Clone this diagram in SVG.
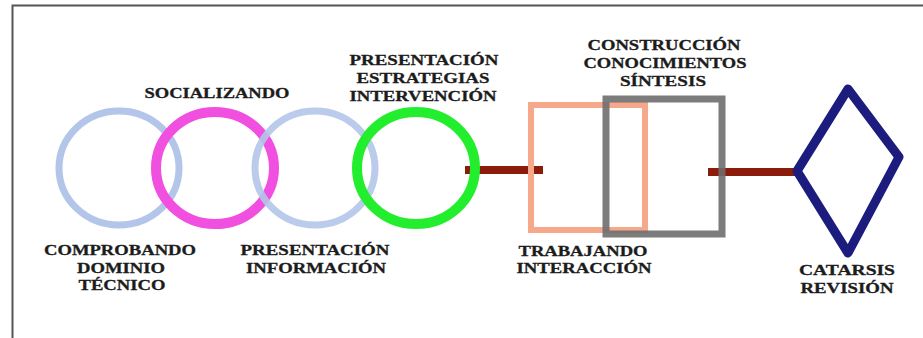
<svg xmlns="http://www.w3.org/2000/svg" width="923" height="338" viewBox="0 0 923 338">
<style>
.lbl{font-family:"Liberation Serif","Times New Roman",serif;font-weight:bold;font-size:15.5px;fill:#1c1c1c;stroke:#1c1c1c;stroke-width:0.3;text-anchor:middle}
.ring{fill:none}
.conn{stroke:#8b1c0c;stroke-width:8;fill:none}
</style>
<rect width="923" height="338" fill="#ffffff"/>
<path d="M12.5,338 V5.5 H923" fill="none" stroke="#555" stroke-width="2"/>
<g id="connectors">
<line class="conn" x1="465" y1="170" x2="543" y2="170"/>
<line class="conn" x1="708" y1="172" x2="797" y2="172" stroke-width="10"/>
</g>
<g id="n-comprobando">
<ellipse class="ring" cx="119" cy="168" rx="60" ry="57" stroke="#b3c5e9" stroke-width="7"/>
<text class="lbl" x="120" y="255" textLength="152" lengthAdjust="spacingAndGlyphs">COMPROBANDO</text>
<text class="lbl" x="121" y="273" textLength="88" lengthAdjust="spacingAndGlyphs">DOMINIO</text>
<text class="lbl" x="122" y="290" textLength="87" lengthAdjust="spacingAndGlyphs">TÉCNICO</text>
</g>
<g id="n-socializando">
<ellipse class="ring" cx="215" cy="168" rx="59" ry="56" stroke="#f04fdf" stroke-width="10"/>
<text class="lbl" x="217" y="98" textLength="145" lengthAdjust="spacingAndGlyphs">SOCIALIZANDO</text>
</g>
<g id="n-presentacion-info">
<ellipse class="ring" cx="315" cy="168" rx="60" ry="57" stroke="#b3c5e9" stroke-width="7" opacity="0.9"/>
<text class="lbl" x="315" y="255" textLength="149" lengthAdjust="spacingAndGlyphs">PRESENTACIÓN</text>
<text class="lbl" x="316" y="273" textLength="140" lengthAdjust="spacingAndGlyphs">INFORMACIÓN</text>
</g>
<g id="n-presentacion-estrategias">
<ellipse class="ring" cx="416" cy="168" rx="59" ry="56" stroke="#22ee2e" stroke-width="10"/>
<text class="lbl" x="424" y="65" textLength="149" lengthAdjust="spacingAndGlyphs">PRESENTACIÓN</text>
<text class="lbl" x="423" y="83" textLength="133" lengthAdjust="spacingAndGlyphs">ESTRATEGIAS</text>
<text class="lbl" x="423" y="101" textLength="147" lengthAdjust="spacingAndGlyphs">INTERVENCIÓN</text>
</g>
<g id="n-trabajando">
<rect x="531" y="105" width="114" height="125" fill="none" stroke="#f5a88a" stroke-width="6"/>
<text class="lbl" x="583" y="256" textLength="129" lengthAdjust="spacingAndGlyphs">TRABAJANDO</text>
<text class="lbl" x="584" y="273" textLength="135" lengthAdjust="spacingAndGlyphs">INTERACCIÓN</text>
</g>
<g id="n-construccion">
<rect x="606" y="99" width="116" height="135" fill="none" stroke="#6e6e6e" stroke-width="7" opacity="0.9"/>
<text class="lbl" x="664" y="50" textLength="153" lengthAdjust="spacingAndGlyphs">CONSTRUCCIÓN</text>
<text class="lbl" x="665" y="68" textLength="163" lengthAdjust="spacingAndGlyphs">CONOCIMIENTOS</text>
<text class="lbl" x="663" y="86" textLength="86" lengthAdjust="spacingAndGlyphs">SÍNTESIS</text>
</g>
<g id="n-catarsis">
<polygon points="848,89 899,157 848,253 797,171" fill="none" stroke="#1c1c7e" stroke-width="9" stroke-linejoin="round"/>
<text class="lbl" x="847" y="275" textLength="96" lengthAdjust="spacingAndGlyphs">CATARSIS</text>
<text class="lbl" x="847" y="293" textLength="93" lengthAdjust="spacingAndGlyphs">REVISIÓN</text>
</g>
</svg>
